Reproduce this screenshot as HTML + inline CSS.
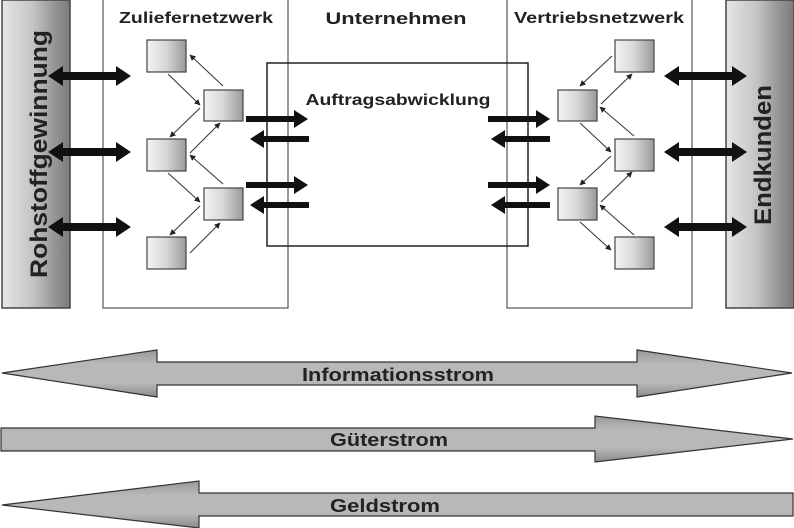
<!DOCTYPE html>
<html><head><meta charset="utf-8"><style>
html,body{margin:0;padding:0;background:#fff;}
svg{display:block;}
text{font-family:"Liberation Sans",sans-serif;font-weight:bold;fill:#222;}
</style></head><body>
<svg width="794" height="528" viewBox="0 0 794 528" xmlns="http://www.w3.org/2000/svg">
<defs>
<linearGradient id="bar" x1="0" x2="1" y1="0" y2="0">
<stop offset="0" stop-color="#e6e6e6"/><stop offset="0.45" stop-color="#c4c4c4"/><stop offset="0.75" stop-color="#999"/><stop offset="1" stop-color="#7a7a7a"/>
</linearGradient>
<linearGradient id="node" x1="0" x2="1" y1="0" y2="0">
<stop offset="0" stop-color="#f4f4f4"/><stop offset="0.5" stop-color="#d6d6d6"/><stop offset="1" stop-color="#9a9a9a"/>
</linearGradient>
<linearGradient id="big" x1="0" x2="0" y1="0" y2="1">
<stop offset="0" stop-color="#999"/><stop offset="0.3" stop-color="#b8b8b8"/><stop offset="0.7" stop-color="#b8b8b8"/><stop offset="1" stop-color="#8a8a8a"/>
</linearGradient>
<marker id="m" viewBox="0 0 10 10" refX="9" refY="5" markerWidth="6" markerHeight="6" orient="auto"><path d="M0,0 L10,5 L0,10 z" fill="#222"/></marker>
</defs>

<rect x="2" y="0" width="68" height="308" fill="url(#bar)" stroke="#444" stroke-width="1.5"/>
<rect x="726" y="0" width="68" height="308" fill="url(#bar)" stroke="#444" stroke-width="1.5"/>
<text transform="translate(47,154) rotate(-90)" text-anchor="middle" font-size="24" textLength="248" lengthAdjust="spacingAndGlyphs">Rohstoffgewinnung</text>
<text transform="translate(771,155) rotate(-90)" text-anchor="middle" font-size="24" textLength="140" lengthAdjust="spacingAndGlyphs">Endkunden</text>

<rect x="103" y="-1" width="185" height="309" fill="none" stroke="#555" stroke-width="1.2"/>
<rect x="507" y="-1" width="185" height="309" fill="none" stroke="#555" stroke-width="1.2"/>
<rect x="267" y="63" width="261" height="183" fill="none" stroke="#222" stroke-width="1.5"/>
<text x="196" y="23" text-anchor="middle" font-size="16" textLength="154" lengthAdjust="spacingAndGlyphs">Zuliefernetzwerk</text>
<text x="599" y="23" text-anchor="middle" font-size="16" textLength="170" lengthAdjust="spacingAndGlyphs">Vertriebsnetzwerk</text>
<text x="396" y="24" text-anchor="middle" font-size="17" textLength="141" lengthAdjust="spacingAndGlyphs">Unternehmen</text>
<text x="398" y="105" text-anchor="middle" font-size="16" textLength="185" lengthAdjust="spacingAndGlyphs">Auftragsabwicklung</text>

<g fill="url(#node)" stroke="#444" stroke-width="1.2">
<rect x="147" y="40" width="39" height="32"/>
<rect x="204" y="90" width="39" height="31"/>
<rect x="147" y="139" width="39" height="32"/>
<rect x="204" y="188" width="39" height="32"/>
<rect x="147" y="237" width="39" height="32"/>
<rect x="615" y="40" width="39" height="32"/>
<rect x="558" y="90" width="39" height="31"/>
<rect x="615" y="139" width="39" height="32"/>
<rect x="558" y="188" width="39" height="32"/>
<rect x="615" y="237" width="39" height="32"/>
</g>

<g stroke="#333" stroke-width="1" marker-end="url(#m)">
<line x1="168" y1="74" x2="200" y2="105"/>
<line x1="223" y1="86" x2="190" y2="55"/>
<line x1="200" y1="108" x2="170" y2="137"/>
<line x1="190" y1="153" x2="220" y2="123"/>
<line x1="223" y1="184" x2="190" y2="155"/>
<line x1="168" y1="173" x2="200" y2="202"/>
<line x1="200" y1="206" x2="170" y2="235"/>
<line x1="190" y1="253" x2="220" y2="223"/>
<line x1="612" y1="56" x2="580" y2="86"/>
<line x1="601" y1="104" x2="632" y2="74"/>
<line x1="580" y1="123" x2="611" y2="152"/>
<line x1="634" y1="136" x2="600" y2="107"/>
<line x1="611" y1="156" x2="580" y2="185"/>
<line x1="601" y1="202" x2="632" y2="172"/>
<line x1="634" y1="235" x2="600" y2="205"/>
<line x1="580" y1="222" x2="611" y2="250"/>
</g>

<g fill="#111">
<path d="M48,76 l15,-10 v6 h53 v-6 l15,10 l-15,10 v-6 h-53 v6 z"/>
<path d="M48,152 l15,-10 v6 h53 v-6 l15,10 l-15,10 v-6 h-53 v6 z"/>
<path d="M48,227 l15,-10 v6 h53 v-6 l15,10 l-15,10 v-6 h-53 v6 z"/>
<path d="M664,76 l15,-10 v6 h53 v-6 l15,10 l-15,10 v-6 h-53 v6 z"/>
<path d="M664,152 l15,-10 v6 h53 v-6 l15,10 l-15,10 v-6 h-53 v6 z"/>
<path d="M664,227 l15,-10 v6 h53 v-6 l15,10 l-15,10 v-6 h-53 v6 z"/>
<path d="M246,116 h48 v-6 l14,9 l-14,9 v-6 h-48 z"/>
<path d="M309,136 h-45 v-6 l-14,9 l14,9 v-6 h45 z"/>
<path d="M246,182 h48 v-6 l14,9 l-14,9 v-6 h-48 z"/>
<path d="M309,202 h-45 v-6 l-14,9 l14,9 v-6 h45 z"/>
<path d="M488,116 h48 v-6 l14,9 l-14,9 v-6 h-48 z"/>
<path d="M550,136 h-45 v-6 l-14,9 l14,9 v-6 h45 z"/>
<path d="M488,182 h48 v-6 l14,9 l-14,9 v-6 h-48 z"/>
<path d="M550,202 h-45 v-6 l-14,9 l14,9 v-6 h45 z"/>
</g>

<g fill="url(#big)" stroke="#333" stroke-width="1.2">
<path d="M2,373 L157,350 V362 H637 V350 L792,373 L637,397 V385 H157 V397 Z"/>
<path d="M1,428 H595 V416 L793,439 L595,462 V451 H1 Z"/>
<path d="M2,505 L199,481 V493 H793 V516 H199 V528 Z"/>
</g>
<text x="398" y="381" text-anchor="middle" font-size="18" textLength="192" lengthAdjust="spacingAndGlyphs">Informationsstrom</text>
<text x="389" y="446" text-anchor="middle" font-size="18" textLength="118" lengthAdjust="spacingAndGlyphs">Güterstrom</text>
<text x="385" y="512" text-anchor="middle" font-size="18" textLength="110" lengthAdjust="spacingAndGlyphs">Geldstrom</text>
</svg>
</body></html>
